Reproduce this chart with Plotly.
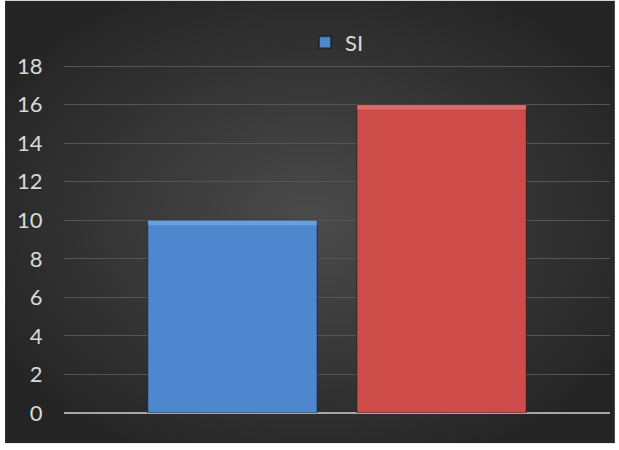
import base64

import plotly.graph_objects as go

# data
categories = [""]
series_names = ["SI", "NO"]
series_values = [[10], [16]]
series_colors = ["#4e87cd", "#cd4c4a"]
highlight_colors = ["#8dbcf0", "#f09290"]
y_ticks = [0, 2, 4, 6, 8, 10, 12, 14, 16, 18]

FONT = "Lato, Open Sans, sans-serif"
TEXT = "#d9d9d9"

bg_svg = (
    "<svg xmlns='http://www.w3.org/2000/svg' width='610' height='440' "
    "preserveAspectRatio='none' viewBox='0 0 610 440'>"
    "<defs><radialGradient id='g' cx='50%' cy='50%' r='60%'>"
    "<stop offset='0%' stop-color='#4b4b4b'/>"
    "<stop offset='100%' stop-color='#242424'/>"
    "</radialGradient></defs>"
    "<rect width='610' height='440' fill='url(#g)'/></svg>"
)
bg_uri = "data:image/svg+xml;base64," + base64.b64encode(bg_svg.encode()).decode()

fig = go.Figure()
for i, (name, vals, color) in enumerate(zip(series_names, series_values, series_colors)):
    fig.add_trace(go.Bar(
        x=categories, y=vals, name=name, offsetgroup=str(i),
        marker=dict(color=color, line=dict(color="rgba(20,20,20,0.6)", width=1)),
        showlegend=(name == "SI"),
        hoverinfo="y",
    ))
    # thin lighter band on top of each bar, a rough stand-in for the bevel
    fig.add_trace(go.Bar(
        x=categories, y=[0.25] * len(vals), base=[v - 0.25 for v in vals],
        offsetgroup=str(i), marker=dict(color=highlight_colors[i], line=dict(width=0)),
        opacity=0.45, showlegend=False, hoverinfo="skip",
    ))

fig.add_layout_image(
    source=bg_uri, xref="paper", yref="paper",
    x=-0.108, y=1.185, sizex=1.117, sizey=1.272,
    xanchor="left", yanchor="top", sizing="stretch", layer="below",
)

fig.update_layout(
    width=619, height=450,
    margin=dict(l=64, r=9, t=65, b=37),
    paper_bgcolor="white",
    plot_bgcolor="rgba(0,0,0,0)",
    barmode="group",
    bargap=0.234,
    bargroupgap=0.19,
    font=dict(family=FONT, size=22, color=TEXT),
    legend=dict(
        orientation="h", x=0.5, y=1.065, xanchor="center", yanchor="middle",
        bgcolor="rgba(0,0,0,0)", font=dict(size=22, color=TEXT),
        itemwidth=30, itemsizing="constant",
    ),
)
fig.update_xaxes(showticklabels=False, showgrid=False, zeroline=False, showline=False)
fig.update_yaxes(
    range=[0, 18.06], tickvals=y_ticks,
    showgrid=True, gridcolor="#555555", gridwidth=1,
    zeroline=True, zerolinecolor="#a6a6a6", zerolinewidth=2,
    showline=False, ticks="outside", ticklen=16, tickcolor="rgba(0,0,0,0)",
    tickfont=dict(size=22, color=TEXT),
)

fig.write_html(
    "out.html",
    config={"displayModeBar": False},
    post_script="document.body.style.margin='0';",
)
